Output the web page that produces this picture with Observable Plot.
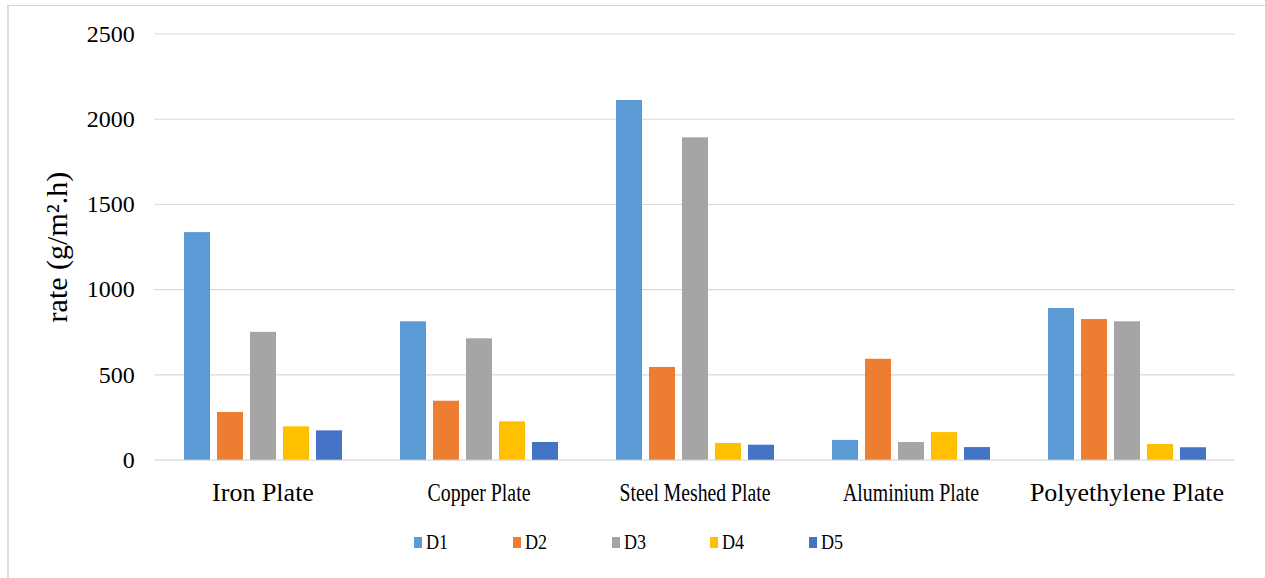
<!DOCTYPE html>
<html>
<head>
<meta charset="utf-8">
<script src="https://cdn.jsdelivr.net/npm/d3@7"></script>
<script src="https://cdn.jsdelivr.net/npm/@observablehq/plot@0.6"></script>
<style>
  html, body { margin: 0; padding: 0; background: #fff; }
  #chart { position: relative; width: 1265px; height: 578px; overflow: hidden;
           font-family: "Liberation Serif", "Times New Roman", serif; color: #000; }
  #frame { position: absolute; left: 7px; top: 5px; right: -2px; bottom: -2px;
           border-top: 1px solid #d4d4d4; border-left: 2px solid #dcdcdc; pointer-events: none; }
  #plot { position: absolute; left: 0; top: 0; }
  #legend { position: absolute; left: 414px; top: 530px; display: flex; }
  #legend .item { width: 98.8px; display: flex; align-items: center; font-size: 21px; line-height: 24px; }
  #legend .sw { width: 8px; height: 11px; margin-right: 4px; flex: none; }
  #legend .lab { display: inline-block; transform: scaleX(0.86); transform-origin: left center; }
</style>
</head>
<body>
<div id="chart">
  <div id="frame"></div>
  <div id="plot"></div>
  <div id="legend"></div>
</div>
<script>
// Corrosion rate per plate type for five series (D1–D5)
const categories = ["Iron Plate", "Copper Plate", "Steel Meshed Plate", "Aluminium Plate", "Polyethylene Plate"];
const series = ["D1", "D2", "D3", "D4", "D5"];
const d1 = [1335, 812, 2110, 116, 890];
const d2 = [280, 346, 544, 592, 825];
const d3v = [750, 712, 1891, 104, 812];
const d4 = [196, 225, 98, 162, 92];
const d5 = [172, 104, 88, 74, 73];
const yTicks = [0, 500, 1000, 1500, 2000, 2500];
const yLabel = "rate (g/m².h)";

// Styling
const serif = "'Liberation Serif', 'Times New Roman', serif";
const colors = ["#5B9BD5", "#ED7D31", "#A5A5A5", "#FFC000", "#4472C4"];
const labelWidths = {
  "Iron Plate": 103, "Copper Plate": 103, "Steel Meshed Plate": 151,
  "Aluminium Plate": 136, "Polyethylene Plate": 199
};

const seriesValues = [d1, d2, d3v, d4, d5];
const rows = series.flatMap((s, i) =>
  categories.map((c, j) => ({category: c, series: s, value: seriesValues[i][j]}))
);

const W = 1265, H = 520;
const mL = 153, mR = 28.3, mT = 33.5, mB = H - 459.7;
const groupPad = 0.2644;
const step = (W - mL - mR) / categories.length;
const halfGap = step * groupPad / 2;

const chart = Plot.plot({
  width: W,
  height: H,
  marginLeft: mL,
  marginRight: mR,
  marginTop: mT,
  marginBottom: mB,
  style: {fontFamily: serif, background: "transparent", color: "#000"},
  fx: {domain: categories, paddingInner: groupPad, paddingOuter: groupPad / 2, label: null},
  x: {domain: series, paddingInner: 0.22, paddingOuter: 0, axis: null},
  y: {domain: [0, 2500], label: null},
  color: {domain: series, range: colors},
  marks: [
    Plot.ruleY(yTicks, {stroke: "#d9d9d9", strokeWidth: 1.2, insetLeft: -halfGap, insetRight: -halfGap}),
    Plot.barY(rows, {fx: "category", x: "series", y: "value", fill: "series"}),
    Plot.axisY({ticks: yTicks, tickFormat: d => String(d), tickSize: 0, tickPadding: 20 + halfGap,
                fontSize: 24, fontFamily: serif, fontVariant: "normal", label: null}),
    Plot.axisY({ticks: [], tickSize: 0, fontSize: 30, fontFamily: serif, label: yLabel,
                labelArrow: "none", labelAnchor: "center", labelOffset: 138}),
    Plot.axisFx({anchor: "bottom", tickSize: 0, tickPadding: 22, fontSize: 26, fontFamily: serif, label: null})
  ]
});
document.getElementById("plot").appendChild(chart);

// Narrow each category label horizontally to its width, keeping its height
chart.querySelectorAll('g[aria-label="fx-axis tick label"] text').forEach(el => {
  const target = labelWidths[el.textContent];
  const len = el.getComputedTextLength();
  if (target && len > 0) {
    const sx = Math.min(1, target / len);
    el.setAttribute("transform", `${el.getAttribute("transform") || ""} scale(${sx},1)`);
  }
});

// Legend
const legend = document.getElementById("legend");
series.forEach((s, i) => {
  const item = document.createElement("div");
  item.className = "item";
  const sw = document.createElement("span");
  sw.className = "sw";
  sw.style.background = colors[i];
  const lab = document.createElement("span");
  lab.className = "lab";
  lab.textContent = s;
  item.append(sw, lab);
  legend.append(item);
});
</script>
</body>
</html>
